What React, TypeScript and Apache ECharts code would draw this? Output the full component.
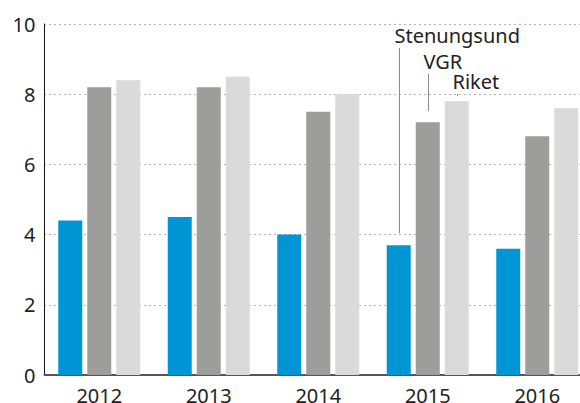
import React, { useEffect, useRef } from "react";
import * as echarts from "echarts";

const categories = ["2012", "2013", "2014", "2015", "2016"];
const stenungsund = [4.4, 4.5, 4.0, 3.7, 3.6];
const vgr = [8.2, 8.2, 7.5, 7.2, 6.8];
const riket = [8.4, 8.5, 8.0, 7.8, 7.6];
const seriesNames = ["Stenungsund", "VGR", "Riket"];
const seriesColors = ["#0096D6", "#9D9D9C", "#DADADA"];
const yTicks = [0, 2, 4, 6, 8, 10];
// annotation: which category, and label anchor heights (in axis units)
const annotCategory = 3;
const labelLevels = [9.66, 8.92, 8.35];
const lineGapsPx = [12, 11, 5];

const FONT = "Noto Sans";
const BAR_W = 24;
const BAR_GAP_PX = 5;

export default function App() {
  const ref = useRef<HTMLDivElement>(null);
  useEffect(() => {
    if (!ref.current) return;
    const chart = echarts.init(ref.current, undefined, { renderer: "svg" });
    const data = [stenungsund, vgr, riket];
    chart.setOption({
      animation: false,
      grid: {
        left: 44.5,
        width: 547.5,
        top: 24,
        bottom: 28,
        containLabel: false,
        outerBoundsMode: "none",
      },
      xAxis: {
        type: "category",
        data: categories,
        axisTick: { show: false },
        axisLine: { show: true, lineStyle: { color: "#555", width: 2 } },
        axisLabel: { color: "#222", fontSize: 20, fontFamily: FONT, margin: 10 },
      },
      yAxis: {
        type: "value",
        min: yTicks[0],
        max: yTicks[yTicks.length - 1],
        interval: 2,
        axisLine: { show: true, lineStyle: { color: "#111", width: 1 } },
        axisTick: { show: false },
        axisLabel: { color: "#222", fontSize: 20, fontFamily: FONT, margin: 9 },
        splitLine: { show: true, lineStyle: { color: "#666", width: 1, type: [1, 4] } },
      },
      series: data.map((d, i) => ({
        type: "bar",
        name: seriesNames[i],
        data: d,
        barWidth: BAR_W,
        barGap: (BAR_GAP_PX / BAR_W) * 100 + "%",
        itemStyle: { color: seriesColors[i] },
        z: 3,
      })),
    });

    const graphics: any[] = [];
    data.forEach((d, i) => {
      const top = chart.convertToPixel({ gridIndex: 0 }, [annotCategory, d[annotCategory]]) as number[];
      const lab = chart.convertToPixel({ gridIndex: 0 }, [annotCategory, labelLevels[i]]) as number[];
      const x = Math.round(top[0] + (i - 1) * (BAR_W + BAR_GAP_PX)) + 0.5;
      const textY = lab[1];
      graphics.push({
        type: "line",
        shape: { x1: x, y1: textY + 12, x2: x, y2: top[1] - lineGapsPx[i] },
        style: { stroke: "#8a8a8a", lineWidth: 1 },
        z: 10,
      });
      graphics.push({
        type: "text",
        x: x - 5,
        y: textY,
        style: {
          text: seriesNames[i],
          fontSize: 20,
          fontFamily: FONT,
          fill: "#222",
          verticalAlign: "middle",
          align: "left",
        },
        z: 10,
      });
    });
    chart.setOption({ graphic: graphics });

    return () => chart.dispose();
  }, []);
  return (
    <div
      ref={ref}
      style={{ position: "fixed", left: 0, top: 0, width: 580, height: 403, background: "#fff" }}
    />
  );
}
